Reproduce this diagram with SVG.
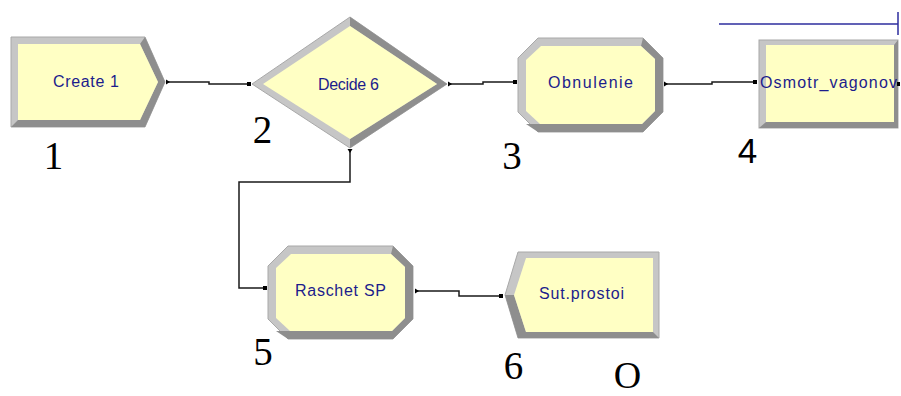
<svg xmlns="http://www.w3.org/2000/svg" width="901" height="396" viewBox="0 0 901 396">
<style>
.lt{fill:#c6c6c6;stroke:#a8a8a8;stroke-width:1}
.dk{fill:#8e8e8e}
.in{fill:#ffffc4}
.lbl{font-family:"Liberation Sans",Arial,sans-serif;font-size:16px;fill:#1c1c8c;text-anchor:middle}
.num{font-family:"Liberation Serif","Times New Roman",serif;font-size:39px;fill:#000;text-anchor:middle}
.con{fill:none;stroke:#1a1a1a;stroke-width:1.5}
</style>
<defs>
<marker id="out" markerWidth="6" markerHeight="6" refX="1" refY="3" markerUnits="userSpaceOnUse" orient="auto">
<path d="M0,0.5 L4,3 L0,5.5 Z" fill="#000"/>
</marker>
<marker id="inp" markerWidth="6" markerHeight="6" refX="4" refY="3" markerUnits="userSpaceOnUse" orient="auto">
<rect x="0" y="1" width="4" height="4" fill="#000"/>
</marker>
</defs>
<rect width="901" height="396" fill="#fff"/>

<g id="connectors">
<path class="con" d="M167,82 H209 V84 H251" marker-start="url(#out)" marker-end="url(#inp)"/>
<path class="con" d="M449,84 H483 V82 H517" marker-start="url(#out)" marker-end="url(#inp)"/>
<path class="con" d="M665,84 H712 V82 H757" marker-start="url(#out)" marker-end="url(#inp)"/>
<path class="con" d="M350,150 V182 H239 V288 H267" marker-start="url(#out)" marker-end="url(#inp)"/>
<path class="con" d="M416,291 H459 V296 H503" marker-start="url(#out)" marker-end="url(#inp)"/>
</g>

<g id="node1">
<polygon class="lt" points="11,37 145,37 165,82 145,127 11,127"/>
<polygon class="dk" points="145,37 165,82 145,127 11,127 18,120 140,120 158,82 140,44"/>
<polygon class="in" points="18,44 140,44 158,82 140,120 18,120"/>
<text class="lbl" x="86" y="87" textLength="66" lengthAdjust="spacing">Create 1</text>
<text class="num" x="53.5" y="169">1</text>
</g>

<g id="node2">
<polygon class="lt" points="252,84 350,17 447,84 350,148"/>
<polygon class="dk" points="350,17 447,84 350,148 350,139 437,84 350,26"/>
<polygon class="in" points="263,84 350,26 437,84 350,139"/>
<text class="lbl" x="348.5" y="90" textLength="61" lengthAdjust="spacing">Decide 6</text>
<text class="num" x="262.5" y="143">2</text>
</g>

<g id="node3">
<polygon class="lt" points="538,38 643,38 663,58 663,112 643,132 538,132 518,112 518,58"/>
<polygon class="dk" points="643,38 663,58 663,112 643,132 538,132 526,124 642,124 655,111 655,59 641,46"/>
<polygon class="in" points="541,46 641,46 655,59 655,111 642,124 540,124 526,111 526,60"/>
<text class="lbl" x="590.5" y="88" textLength="85" lengthAdjust="spacing">Obnulenie</text>
<text class="num" x="512" y="169">3</text>
</g>

<g id="node4">
<rect class="lt" x="759" y="40" width="139" height="88"/>
<polygon class="dk" points="898,40 898,128 759,128 766,122 894,122 894,45"/>
<rect class="in" x="766" y="45" width="128" height="77"/>
<text class="lbl" x="828.5" y="88" textLength="137" lengthAdjust="spacing">Osmotr_vagonov</text>
<rect x="897" y="82" width="3" height="4" fill="#000"/>
<text x="747.5" y="163" style="font-family:'Liberation Sans',Arial,sans-serif;font-size:35px;fill:#000;text-anchor:middle">4</text>
</g>

<g id="node5">
<polygon class="lt" points="288,246 393,246 413,266 413,319 393,339 288,339 268,319 268,266"/>
<polygon class="dk" points="393,246 413,266 413,319 393,339 288,339 276,331 392,331 405,318 405,267 391,254"/>
<polygon class="in" points="291,254 391,254 405,267 405,318 392,331 290,331 276,318 276,268"/>
<text class="lbl" x="340.5" y="296" textLength="91" lengthAdjust="spacing">Raschet SP</text>
<text class="num" x="263" y="365">5</text>
</g>

<g id="node6">
<polygon class="lt" points="518,252 659,252 659,338 518,338 505,295"/>
<polygon class="dk" points="505,295 518,338 659,338 653,332 526,332 514,295"/>
<polygon class="in" points="526,258 653,258 653,332 526,332 514,295"/>
<text class="lbl" x="581.5" y="299" textLength="85" lengthAdjust="spacing">Sut.prostoi</text>
<text class="num" x="513.5" y="379">6</text>
</g>

<g id="decor">
<path d="M719,24 H898 M898,12 V35" fill="none" stroke="#2e2e9e" stroke-width="1.5"/>
<text x="627.5" y="388" style="font-family:'Liberation Serif','Times New Roman',serif;font-size:38px;fill:#000;text-anchor:middle">O</text>
</g>
</svg>
